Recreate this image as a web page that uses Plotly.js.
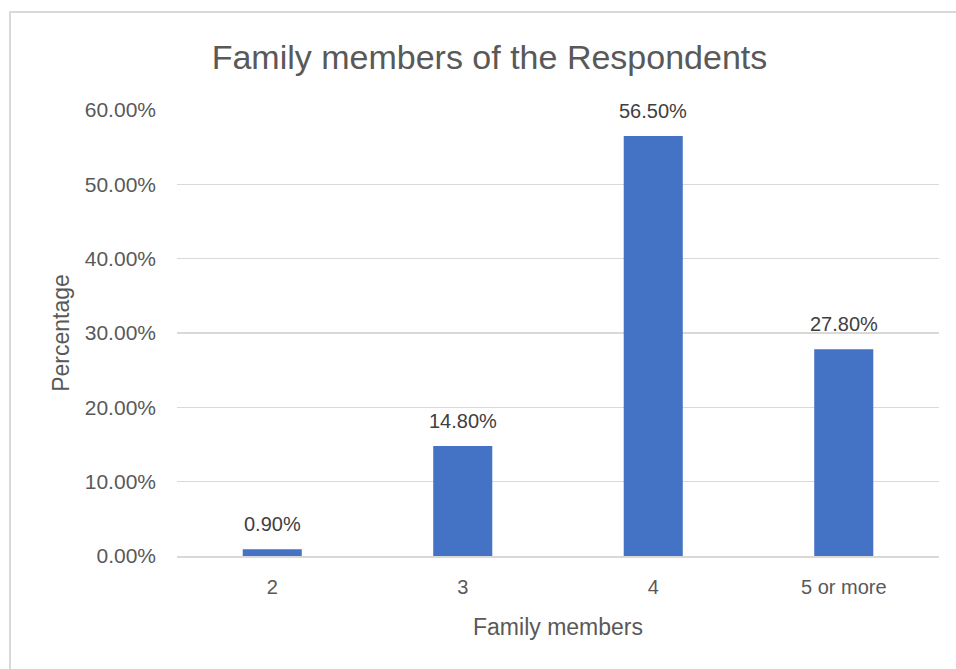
<!DOCTYPE html>
<html>
<head>
<meta charset="utf-8">
<script src="https://cdn.plot.ly/plotly-3.0.1.min.js"></script>
<style>
html,body{margin:0;padding:0;background:#fff;}
#wrap{position:relative;width:956px;height:669px;overflow:hidden;}
#frame{position:absolute;left:9px;top:11px;width:960px;height:700px;border:2px solid #d9d9d9;box-sizing:border-box;pointer-events:none;}
#chart{position:absolute;left:0;top:0;width:956px;height:669px;}
</style>
</head>
<body>
<div id="wrap">
<div id="chart"></div>
<div id="frame"></div>
</div>
<script>
const categories = ["2", "3", "4", "5 or more"];
const percentages = [0.90, 14.80, 56.50, 27.80];
const yTicks = [0, 10, 20, 30, 40, 50, 60];
const yTickText = yTicks.map(v => v.toFixed(2) + "%");

const font = "Liberation Sans, Arial, sans-serif";
const trace = {
  type: "bar",
  x: categories,
  y: percentages,
  marker: {color: "#4472C4"},
  hoverinfo: "x+y"
};
const labels = categories.map((c, i) => ({
  x: i, y: percentages[i], xref: "x", yref: "y",
  text: percentages[i].toFixed(2) + "%",
  showarrow: false, yanchor: "bottom", yshift: 12,
  font: {family: font, size: 20, color: "#404040"}
}));
const layout = {
  width: 956, height: 669,
  margin: {l: 177, r: 17, t: 110, b: 113},
  paper_bgcolor: "rgba(0,0,0,0)",
  plot_bgcolor: "#fff",
  bargap: 0.69,
  showlegend: false,
  annotations: labels,
  title: {text: "Family members of the Respondents", x: 0.512, xanchor: "center", y: 0.915, yanchor: "middle",
          font: {family: font, size: 34, color: "#595959"}},
  xaxis: {
    type: "category",
    range: [-0.5, 3.5],
    tickfont: {family: font, size: 20, color: "#595959"},
    ticks: "", showline: true, linecolor: "#d9d9d9", linewidth: 2,
    ticklabelstandoff: 12,
    title: {text: "Family members", font: {family: font, size: 23, color: "#595959"}, standoff: 22}
  },
  yaxis: {
    range: [0, 60],
    tickvals: yTicks,
    ticktext: yTickText,
    tickfont: {family: font, size: 21, color: "#595959"},
    gridcolor: "#d9d9d9", gridwidth: 1.3,
    zeroline: false, ticks: "", showline: false,
    ticklabelstandoff: 20,
    title: {text: "Percentage", font: {family: font, size: 23, color: "#595959"}, standoff: 8}
  }
};
Plotly.newPlot("chart", [trace], layout, {displayModeBar: false, staticPlot: true});
</script>
</body>
</html>
